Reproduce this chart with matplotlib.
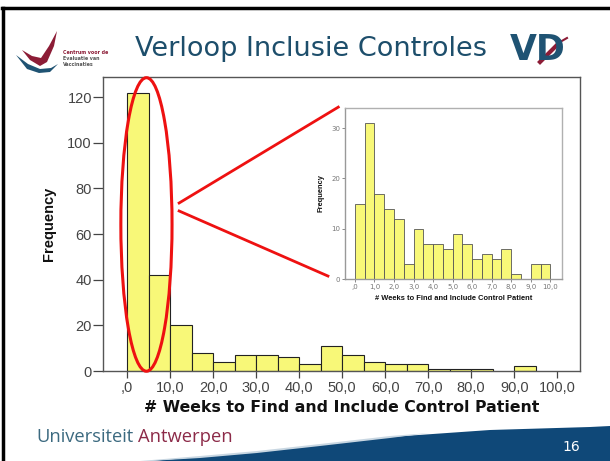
import numpy as np
import matplotlib
matplotlib.use("Agg")
import matplotlib.pyplot as plt
from matplotlib.patches import Ellipse, Polygon
from matplotlib.lines import Line2D

# ---------------- data ----------------
main_edges = list(range(0, 105, 5))
main_counts = [122, 42, 20, 8, 4, 7, 7, 6, 3, 11, 7, 4, 3, 3, 1, 1, 1, 0, 2, 0]
main_xticks = list(range(0, 101, 10))
main_yticks = [0, 20, 40, 60, 80, 100, 120]

inset_edges = [i * 0.5 for i in range(21)]
inset_counts = [15, 31, 17, 14, 12, 3, 10, 7, 7, 6, 9, 7, 4, 5, 4, 6, 1, 0, 3, 3]
inset_xticks = list(range(0, 11))
inset_yticks = [0, 10, 20, 30]

title = "Verloop Inclusie Controles"
xlabel = "# Weeks to Find and Include Control Patient"
ylabel = "Frequency"

W, H = 610, 461
fig = plt.figure(figsize=(W / 100, H / 100), dpi=100)
fig.patch.set_facecolor("white")

def fx(px):
    return px / W

def fy(py):
    return 1 - py / H

def fmt(v):
    s = f"{v:.1f}".replace(".", ",")
    if s.startswith("0,"):
        s = s[1:]
    return s

BAR = "#f8f878"
CHART_FONT = ["Liberation Sans", "DejaVu Sans"]

# ---------------- main histogram ----------------
ax = fig.add_axes([fx(103), fy(371), fx(580) - fx(103), (371 - 77) / H])
lefts = [e for e, c in zip(main_edges[:-1], main_counts) if c > 0]
vals = [c for c in main_counts if c > 0]
ax.bar(lefts, vals, width=5, align="edge", color=BAR, edgecolor="#222222", linewidth=0.8, zorder=2)
ax.set_xlim(-5.6, 105.3)
ax.set_ylim(0, 128.8)
ax.set_xticks(main_xticks)
ax.set_xticklabels([fmt(v) for v in main_xticks])
ax.set_yticks(main_yticks)
ax.set_yticklabels([str(v) for v in main_yticks])
ax.tick_params(axis="y", length=7, width=0.9, color="#444444", pad=1, labelsize=10.5, labelcolor="#444444")
ax.tick_params(axis="x", length=5, width=0.9, color="#444444", pad=2, labelsize=10.5, labelcolor="#444444")
for lab in ax.get_xticklabels() + ax.get_yticklabels():
    lab.set_family(CHART_FONT)
for s in ax.spines.values():
    s.set_color("#555555")
    s.set_linewidth(1.0)
ax.set_xlabel(xlabel, family="DejaVu Sans", fontweight="bold", fontsize=11.3, color="#111111", labelpad=4)
ax.set_ylabel(ylabel, family=CHART_FONT, fontweight="bold", fontsize=10.5, color="#111111", labelpad=8)

# red ellipse and zoom lines
ax.add_patch(Ellipse((4.5, 64.2), 11.9, 128.6, fill=False, edgecolor="#ee1111", linewidth=2.2, clip_on=False, zorder=5))
ax.plot([12.1, 49.1], [73.6, 115.6], color="#ee1111", linewidth=2.0, clip_on=False, zorder=5)
ax.plot([12.1, 46.7], [70.1, 41.6], color="#ee1111", linewidth=2.0, clip_on=False, zorder=5)

# ---------------- inset histogram ----------------
ai = fig.add_axes([fx(345), fy(279), fx(562) - fx(345), (279 - 108) / H])
ilefts = [e for e, c in zip(inset_edges[:-1], inset_counts) if c > 0]
ivals = [c for c in inset_counts if c > 0]
ai.bar(ilefts, ivals, width=0.5, align="edge", color=BAR, edgecolor="#555555", linewidth=0.6, zorder=2)
ai.set_xlim(-0.51, 10.6)
ai.set_ylim(0, 34.0)
ai.set_xticks(inset_xticks)
ai.set_xticklabels([fmt(v) for v in inset_xticks])
ai.set_yticks(inset_yticks)
ai.set_yticklabels([str(v) for v in inset_yticks])
ai.tick_params(length=2.5, width=0.6, color="#777777", pad=1, labelsize=5, labelcolor="#777777")
for s in ai.spines.values():
    s.set_color("#b0b0b0")
    s.set_linewidth(1.0)
ai.spines["left"].set_color("#999999")
ai.spines["bottom"].set_color("#999999")
ai.set_xlabel(xlabel, family=CHART_FONT, fontweight="bold", fontsize=5.4, color="#111111", labelpad=4)
ai.set_ylabel(ylabel, family=CHART_FONT, fontweight="bold", fontsize=5.4, color="#111111", labelpad=5)

# ---------------- slide decoration ----------------
# border
fig.add_artist(Line2D([fx(3), fx(3)], [fy(8), fy(461)], color="black", linewidth=2.5, transform=fig.transFigure))
fig.add_artist(Line2D([fx(2), fx(610)], [fy(8), fy(8)], color="black", linewidth=2.5, transform=fig.transFigure))

# title
fig.text(fx(311), fy(49), title, ha="center", va="center", fontsize=19.5, color="#1d4e6b", family="DejaVu Sans")

# left logo
red = Polygon([[fx(x), fy(y)] for x, y in [(22, 50), (32, 56), (41, 58), (49, 46), (57, 31), (54, 46), (47, 62), (40, 66), (30, 60)]],
              closed=True, facecolor="#8c1c36", edgecolor="none", transform=fig.transFigure)
blue = Polygon([[fx(x), fy(y)] for x, y in [(16, 55), (28, 64), (40, 69), (51, 68), (58, 64), (50, 72), (39, 73), (27, 69)]],
               closed=True, facecolor="#1f5373", edgecolor="none", transform=fig.transFigure)
fig.add_artist(red)
fig.add_artist(blue)
for i, t in enumerate(["Centrum voor de", "Evaluatie van", "Vaccinaties"]):
    fig.text(fx(63), fy(53 + i * 5.5), t, fontsize=3.4, color="#8c1c36" if i == 0 else "#555555",
             va="center", ha="left", family="DejaVu Sans", fontweight="bold")

# right logo
fig.text(fx(538), fy(50), "VD", ha="center", va="center", fontsize=25, fontweight="bold", color="#1f5373", family="DejaVu Sans")
fig.add_artist(Line2D([fx(540), fx(558)], [fy(62), fy(44)], color="#8c1c36", linewidth=3.0, transform=fig.transFigure))
fig.add_artist(Line2D([fx(560), fx(567)], [fy(42), fy(38)], color="#8c1c36", linewidth=1.5, transform=fig.transFigure))

# bottom swoosh
sw_pts = [(150, 461), (200, 457), (257, 452), (320, 445), (390, 437), (490, 430), (590, 427), (610, 426), (610, 461)]
fig.add_artist(Polygon([[fx(x), fy(y)] for x, y in sw_pts], closed=True, facecolor="#0f4878", edgecolor="none",
                       transform=fig.transFigure))
light_pts = [(140, 461), (200, 456), (257, 451), (320, 444), (390, 436), (430, 433), (390, 438), (320, 446), (257, 453), (200, 458), (150, 461)]
fig.add_artist(Polygon([[fx(x), fy(y)] for x, y in light_pts], closed=True, facecolor="#c9d7e2", edgecolor="none",
                       transform=fig.transFigure))
fig.text(fx(571), fy(447), "16", ha="center", va="center", fontsize=10, color="white", family="DejaVu Sans")

# university name
fig.text(fx(36), fy(437), "Universiteit", ha="left", va="center", fontsize=13.2, color="#3c6a80", family="Open Sans")
fig.text(fx(138), fy(437), "Antwerpen", ha="left", va="center", fontsize=13.2, color="#8c2a48", family="Open Sans")

fig.savefig("out.png", dpi=100, facecolor="white")
